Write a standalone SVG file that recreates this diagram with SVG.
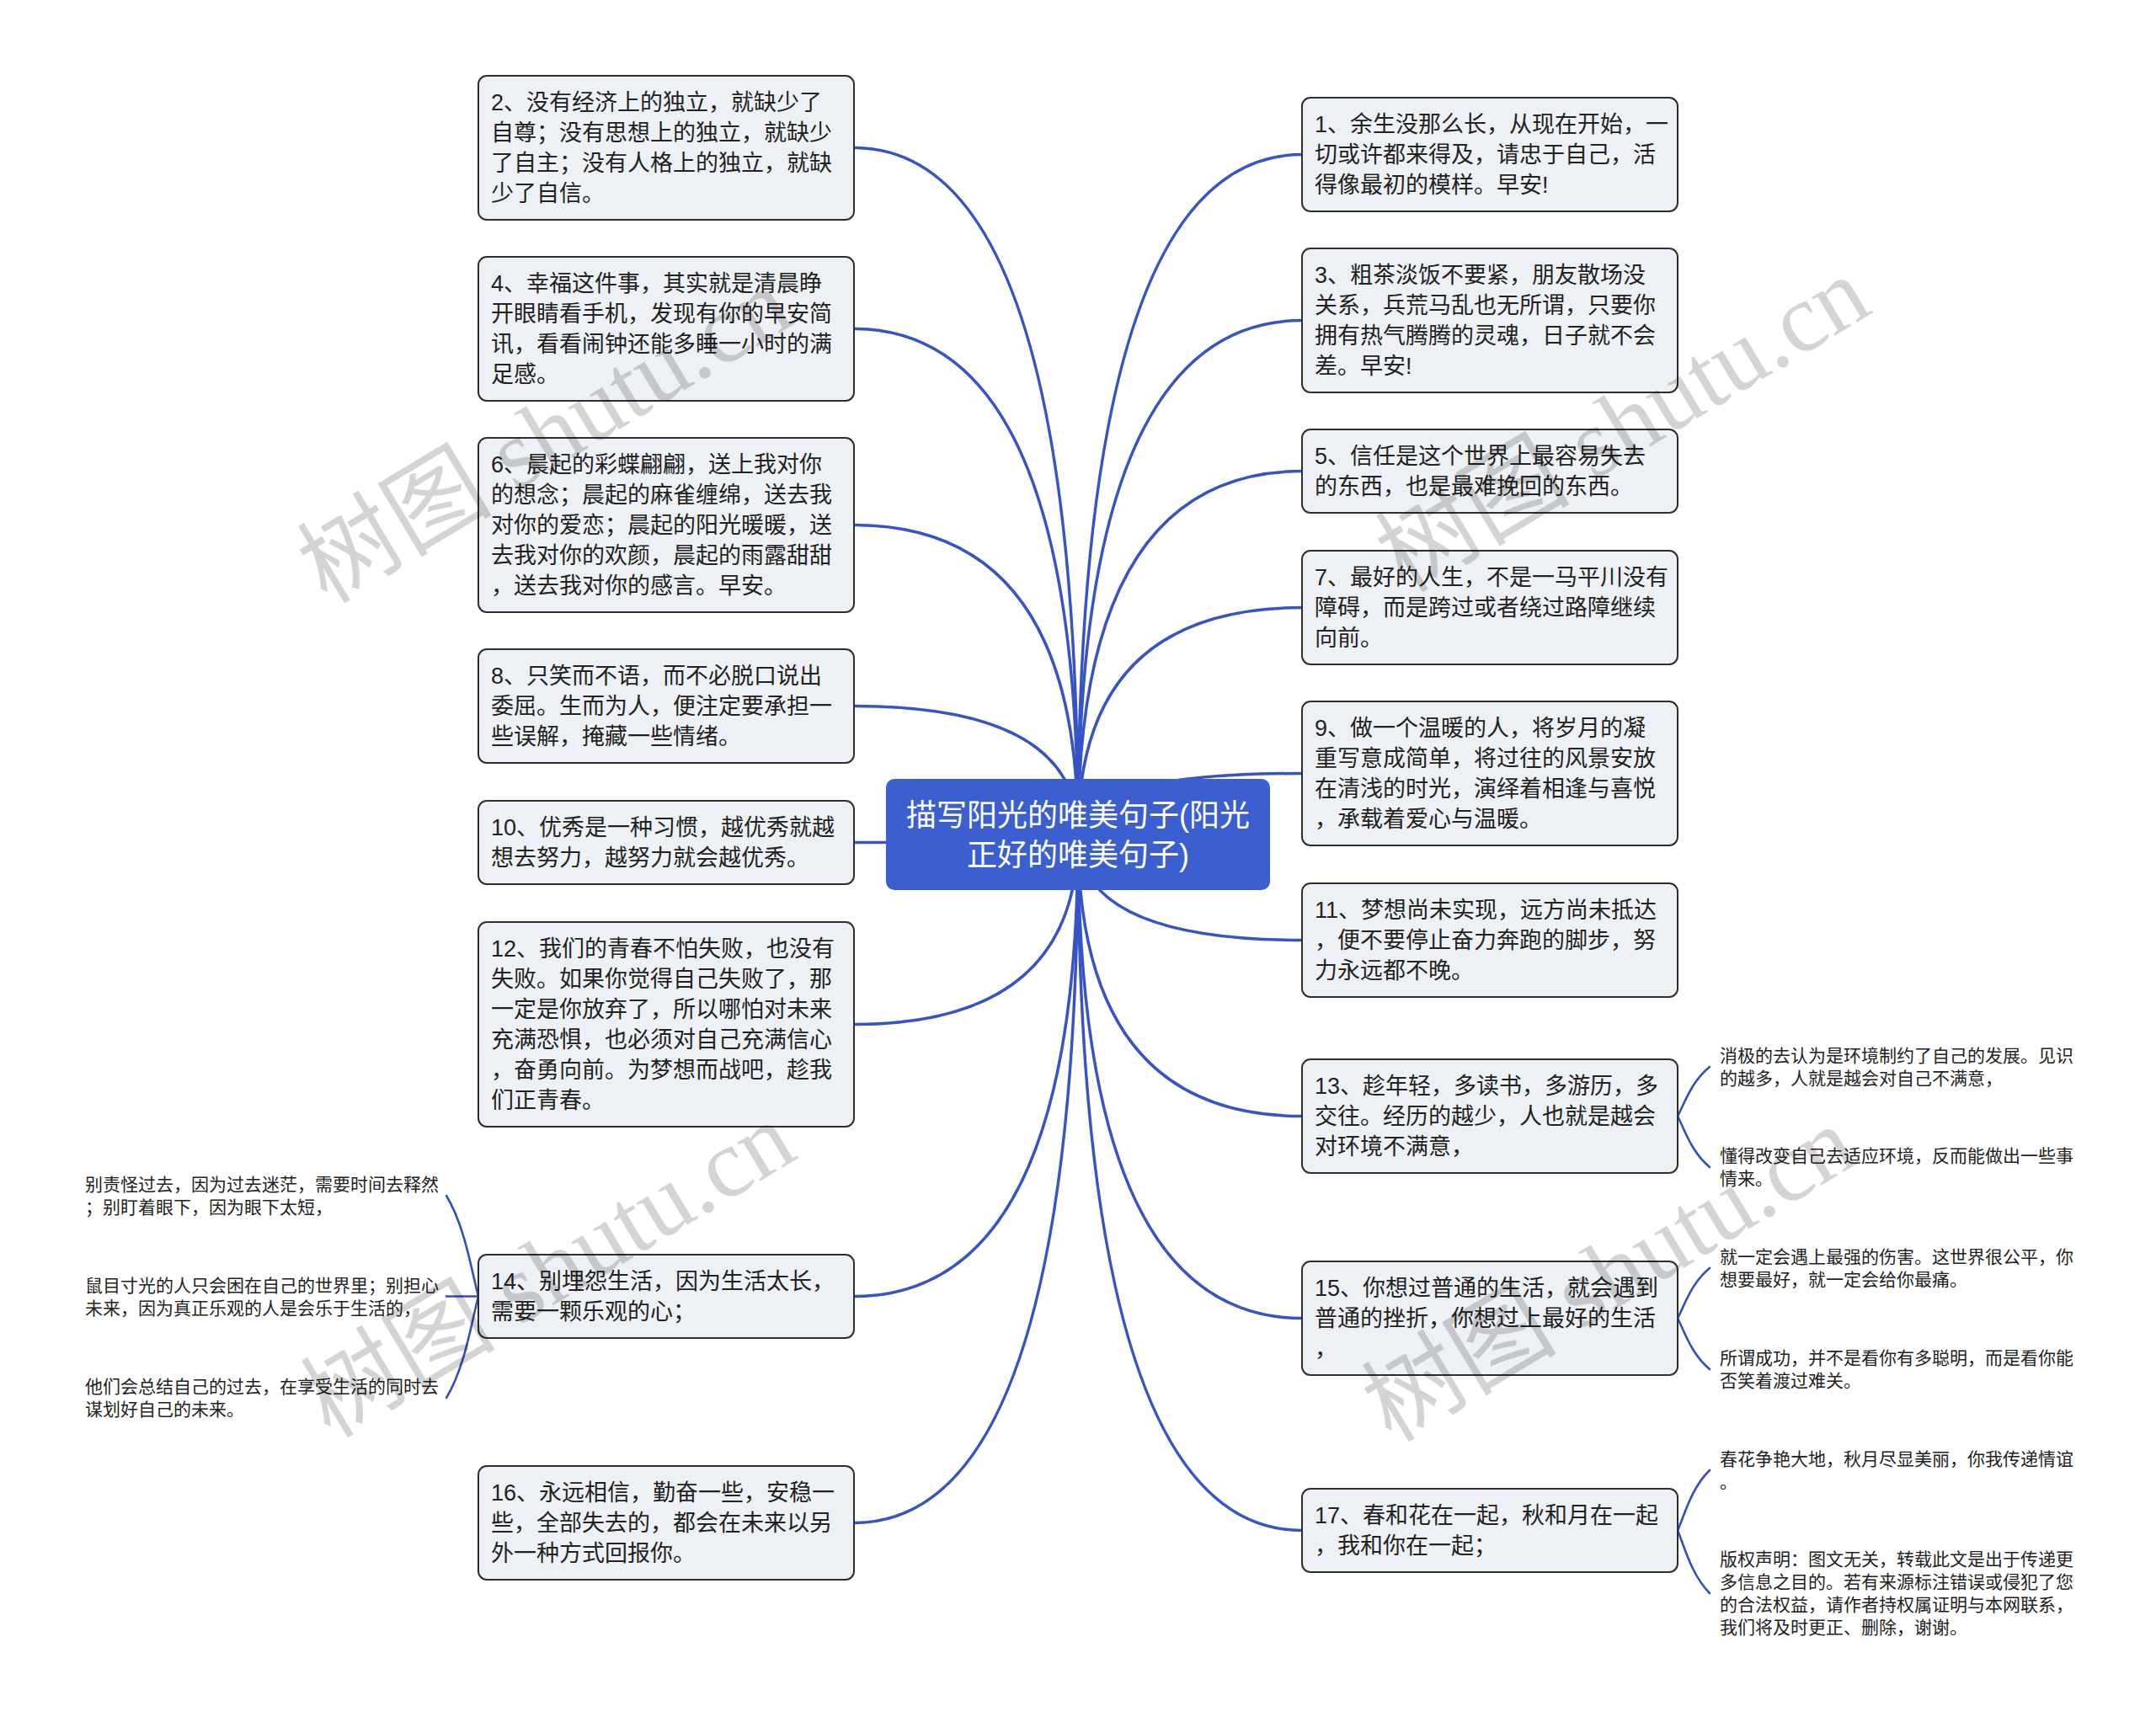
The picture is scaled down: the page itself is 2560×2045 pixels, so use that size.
<svg xmlns="http://www.w3.org/2000/svg" width="2560" height="2045" viewBox="0 0 2560 2045">
<defs>
<style>
.bg{fill:#ffffff}
.edge{fill:none;stroke:#3654c4;stroke-width:3.5;stroke-linecap:round}
.sub{fill:none;stroke:#3350b8;stroke-width:2.6;stroke-linecap:round}
.box{fill:#edf0f4;stroke:#2e2e2e;stroke-width:2}
.root{fill:#3b5fce}
.t{font-family:"Liberation Sans","Noto Sans CJK SC",sans-serif;font-size:27px;fill:#222}
.rt{font-family:"Liberation Sans","Noto Sans CJK SC",sans-serif;font-size:36px;fill:#ffffff;text-anchor:middle}
.lf{font-family:"Liberation Sans","Noto Sans CJK SC",sans-serif;font-size:21px;fill:#222}
.wm{font-family:"Liberation Serif","Noto Sans CJK SC",serif;font-size:116px;fill:#000;fill-opacity:0.17;text-anchor:middle}
</style>
</defs>
<rect class="bg" x="0" y="0" width="2560" height="2045"/>
<g id="connectors">
<path class="edge" d="M1280 991 Q1280 175.5 1014 175.5"/>
<path class="edge" d="M1280 991 Q1280 390.5 1014 390.5"/>
<path class="edge" d="M1280 991 Q1280 623.5 1014 623.5"/>
<path class="edge" d="M1280 991 Q1280 838.5 1014 838.5"/>
<path class="edge" d="M1280 991 Q1280 1000.5 1014 1000.5"/>
<path class="edge" d="M1280 991 Q1280 1216.5 1014 1216.5"/>
<path class="edge" d="M1280 991 Q1280 1539.5 1014 1539.5"/>
<path class="edge" d="M1280 991 Q1280 1808.5 1014 1808.5"/>
<path class="edge" d="M1280 991 Q1280 183.5 1546 183.5"/>
<path class="edge" d="M1280 991 Q1280 380.5 1546 380.5"/>
<path class="edge" d="M1280 991 Q1280 559.5 1546 559.5"/>
<path class="edge" d="M1280 991 Q1280 721.5 1546 721.5"/>
<path class="edge" d="M1280 991 Q1280 918.5 1546 918.5"/>
<path class="edge" d="M1280 991 Q1280 1116.5 1546 1116.5"/>
<path class="edge" d="M1280 991 Q1280 1325.5 1546 1325.5"/>
<path class="edge" d="M1280 991 Q1280 1565.5 1546 1565.5"/>
<path class="edge" d="M1280 991 Q1280 1817.5 1546 1817.5"/>
<path class="sub" d="M568 1539.5 C560 1509.6 552 1455.9 530 1420"/>
<path class="sub" d="M568 1539.5 L530 1539.5"/>
<path class="sub" d="M568 1539.5 C560 1569.4 552 1624.2 530 1660"/>
<path class="sub" d="M1992 1325.5 C2000 1310.9 2008 1284.6 2030 1267"/>
<path class="sub" d="M1992 1325.5 C2000 1340.6 2008 1367.9 2030 1386"/>
<path class="sub" d="M1992 1565.5 C2000 1550.6 2008 1523.9 2030 1506"/>
<path class="sub" d="M1992 1565.5 C2000 1580.6 2008 1607.9 2030 1626"/>
<path class="sub" d="M1992 1817.5 C2000 1799.6 2008 1767.5 2030 1746"/>
<path class="sub" d="M1992 1817.5 C2000 1836.1 2008 1869.7 2030 1892"/>
</g>
<g id="root">
<rect class="root" x="1052" y="925" width="456" height="132" rx="10"/>
<text class="rt" x="1280" y="981">描写阳光的唯美句子(阳光</text>
<text class="rt" x="1280" y="1028">正好的唯美句子)</text>
</g>
<g id="n2">
<rect class="box" x="568" y="90" width="446" height="171" rx="10"/>
<text class="t" x="583" y="131">2、没有经济上的独立，就缺少了</text>
<text class="t" x="583" y="167">自尊；没有思想上的独立，就缺少</text>
<text class="t" x="583" y="203">了自主；没有人格上的独立，就缺</text>
<text class="t" x="583" y="239">少了自信。</text>
</g>
<g id="n4">
<rect class="box" x="568" y="305" width="446" height="171" rx="10"/>
<text class="t" x="583" y="346">4、幸福这件事，其实就是清晨睁</text>
<text class="t" x="583" y="382">开眼睛看手机，发现有你的早安简</text>
<text class="t" x="583" y="418">讯，看看闹钟还能多睡一小时的满</text>
<text class="t" x="583" y="454">足感。</text>
</g>
<g id="n6">
<rect class="box" x="568" y="520" width="446" height="207" rx="10"/>
<text class="t" x="583" y="561">6、晨起的彩蝶翩翩，送上我对你</text>
<text class="t" x="583" y="597">的想念；晨起的麻雀缠绵，送去我</text>
<text class="t" x="583" y="633">对你的爱恋；晨起的阳光暖暖，送</text>
<text class="t" x="583" y="669">去我对你的欢颜，晨起的雨露甜甜</text>
<text class="t" x="583" y="705">，送去我对你的感言。早安。</text>
</g>
<g id="n8">
<rect class="box" x="568" y="771" width="446" height="135" rx="10"/>
<text class="t" x="583" y="812">8、只笑而不语，而不必脱口说出</text>
<text class="t" x="583" y="848">委屈。生而为人，便注定要承担一</text>
<text class="t" x="583" y="884">些误解，掩藏一些情绪。</text>
</g>
<g id="n10">
<rect class="box" x="568" y="951" width="446" height="99" rx="10"/>
<text class="t" x="583" y="992">10、优秀是一种习惯，越优秀就越</text>
<text class="t" x="583" y="1028">想去努力，越努力就会越优秀。</text>
</g>
<g id="n12">
<rect class="box" x="568" y="1095" width="446" height="243" rx="10"/>
<text class="t" x="583" y="1136">12、我们的青春不怕失败，也没有</text>
<text class="t" x="583" y="1172">失败。如果你觉得自己失败了，那</text>
<text class="t" x="583" y="1208">一定是你放弃了，所以哪怕对未来</text>
<text class="t" x="583" y="1244">充满恐惧，也必须对自己充满信心</text>
<text class="t" x="583" y="1280">，奋勇向前。为梦想而战吧，趁我</text>
<text class="t" x="583" y="1316">们正青春。</text>
</g>
<g id="n14">
<rect class="box" x="568" y="1490" width="446" height="99" rx="10"/>
<text class="t" x="583" y="1531">14、别埋怨生活，因为生活太长，</text>
<text class="t" x="583" y="1567">需要一颗乐观的心；</text>
</g>
<g id="n16">
<rect class="box" x="568" y="1741" width="446" height="135" rx="10"/>
<text class="t" x="583" y="1782">16、永远相信，勤奋一些，安稳一</text>
<text class="t" x="583" y="1818">些，全部失去的，都会在未来以另</text>
<text class="t" x="583" y="1854">外一种方式回报你。</text>
</g>
<g id="n1">
<rect class="box" x="1546" y="116" width="446" height="135" rx="10"/>
<text class="t" x="1561" y="157">1、余生没那么长，从现在开始，一</text>
<text class="t" x="1561" y="193">切或许都来得及，请忠于自己，活</text>
<text class="t" x="1561" y="229">得像最初的模样。早安!</text>
</g>
<g id="n3">
<rect class="box" x="1546" y="295" width="446" height="171" rx="10"/>
<text class="t" x="1561" y="336">3、粗茶淡饭不要紧，朋友散场没</text>
<text class="t" x="1561" y="372">关系，兵荒马乱也无所谓，只要你</text>
<text class="t" x="1561" y="408">拥有热气腾腾的灵魂，日子就不会</text>
<text class="t" x="1561" y="444">差。早安!</text>
</g>
<g id="n5">
<rect class="box" x="1546" y="510" width="446" height="99" rx="10"/>
<text class="t" x="1561" y="551">5、信任是这个世界上最容易失去</text>
<text class="t" x="1561" y="587">的东西，也是最难挽回的东西。</text>
</g>
<g id="n7">
<rect class="box" x="1546" y="654" width="446" height="135" rx="10"/>
<text class="t" x="1561" y="695">7、最好的人生，不是一马平川没有</text>
<text class="t" x="1561" y="731">障碍，而是跨过或者绕过路障继续</text>
<text class="t" x="1561" y="767">向前。</text>
</g>
<g id="n9">
<rect class="box" x="1546" y="833" width="446" height="171" rx="10"/>
<text class="t" x="1561" y="874">9、做一个温暖的人，将岁月的凝</text>
<text class="t" x="1561" y="910">重写意成简单，将过往的风景安放</text>
<text class="t" x="1561" y="946">在清浅的时光，演绎着相逢与喜悦</text>
<text class="t" x="1561" y="982">，承载着爱心与温暖。</text>
</g>
<g id="n11">
<rect class="box" x="1546" y="1049" width="446" height="135" rx="10"/>
<text class="t" x="1561" y="1090">11、梦想尚未实现，远方尚未抵达</text>
<text class="t" x="1561" y="1126">，便不要停止奋力奔跑的脚步，努</text>
<text class="t" x="1561" y="1162">力永远都不晚。</text>
</g>
<g id="n13">
<rect class="box" x="1546" y="1258" width="446" height="135" rx="10"/>
<text class="t" x="1561" y="1299">13、趁年轻，多读书，多游历，多</text>
<text class="t" x="1561" y="1335">交往。经历的越少，人也就是越会</text>
<text class="t" x="1561" y="1371">对环境不满意，</text>
</g>
<g id="n15">
<rect class="box" x="1546" y="1498" width="446" height="135" rx="10"/>
<text class="t" x="1561" y="1539">15、你想过普通的生活，就会遇到</text>
<text class="t" x="1561" y="1575">普通的挫折，你想过上最好的生活</text>
<text class="t" x="1561" y="1611">，</text>
</g>
<g id="n17">
<rect class="box" x="1546" y="1768" width="446" height="99" rx="10"/>
<text class="t" x="1561" y="1809">17、春和花在一起，秋和月在一起</text>
<text class="t" x="1561" y="1845">，我和你在一起；</text>
</g>
<g id="l14a">
<text class="lf" x="101" y="1414">别责怪过去，因为过去迷茫，需要时间去释然</text>
<text class="lf" x="101" y="1441">；别盯着眼下，因为眼下太短，</text>
</g>
<g id="l14b">
<text class="lf" x="101" y="1534">鼠目寸光的人只会困在自己的世界里；别担心</text>
<text class="lf" x="101" y="1561">未来，因为真正乐观的人是会乐于生活的，</text>
</g>
<g id="l14c">
<text class="lf" x="101" y="1654">他们会总结自己的过去，在享受生活的同时去</text>
<text class="lf" x="101" y="1681">谋划好自己的未来。</text>
</g>
<g id="l13a">
<text class="lf" x="2042" y="1261">消极的去认为是环境制约了自己的发展。见识</text>
<text class="lf" x="2042" y="1288">的越多，人就是越会对自己不满意，</text>
</g>
<g id="l13b">
<text class="lf" x="2042" y="1380">懂得改变自己去适应环境，反而能做出一些事</text>
<text class="lf" x="2042" y="1407">情来。</text>
</g>
<g id="l15a">
<text class="lf" x="2042" y="1500">就一定会遇上最强的伤害。这世界很公平，你</text>
<text class="lf" x="2042" y="1527">想要最好，就一定会给你最痛。</text>
</g>
<g id="l15b">
<text class="lf" x="2042" y="1620">所谓成功，并不是看你有多聪明，而是看你能</text>
<text class="lf" x="2042" y="1647">否笑着渡过难关。</text>
</g>
<g id="l17a">
<text class="lf" x="2042" y="1740">春花争艳大地，秋月尽显美丽，你我传递情谊</text>
<text class="lf" x="2042" y="1767">。</text>
</g>
<g id="l17b">
<text class="lf" x="2042" y="1859">版权声明：图文无关，转载此文是出于传递更</text>
<text class="lf" x="2042" y="1886">多信息之目的。若有来源标注错误或侵犯了您</text>
<text class="lf" x="2042" y="1913">的合法权益，请作者持权属证明与本网联系，</text>
<text class="lf" x="2042" y="1940">我们将及时更正、删除，谢谢。</text>
</g>
<g id="watermarks">
<text class="wm" x="648" y="556" transform="rotate(-31 648 519)">树图 shutu.cn</text>
<text class="wm" x="652" y="1547" transform="rotate(-31 652 1510)">树图 shutu.cn</text>
<text class="wm" x="1928" y="543" transform="rotate(-31 1928 506)">树图 shutu.cn</text>
<text class="wm" x="1912" y="1552" transform="rotate(-31 1912 1515)">树图 shutu.cn</text>
</g>
</svg>
